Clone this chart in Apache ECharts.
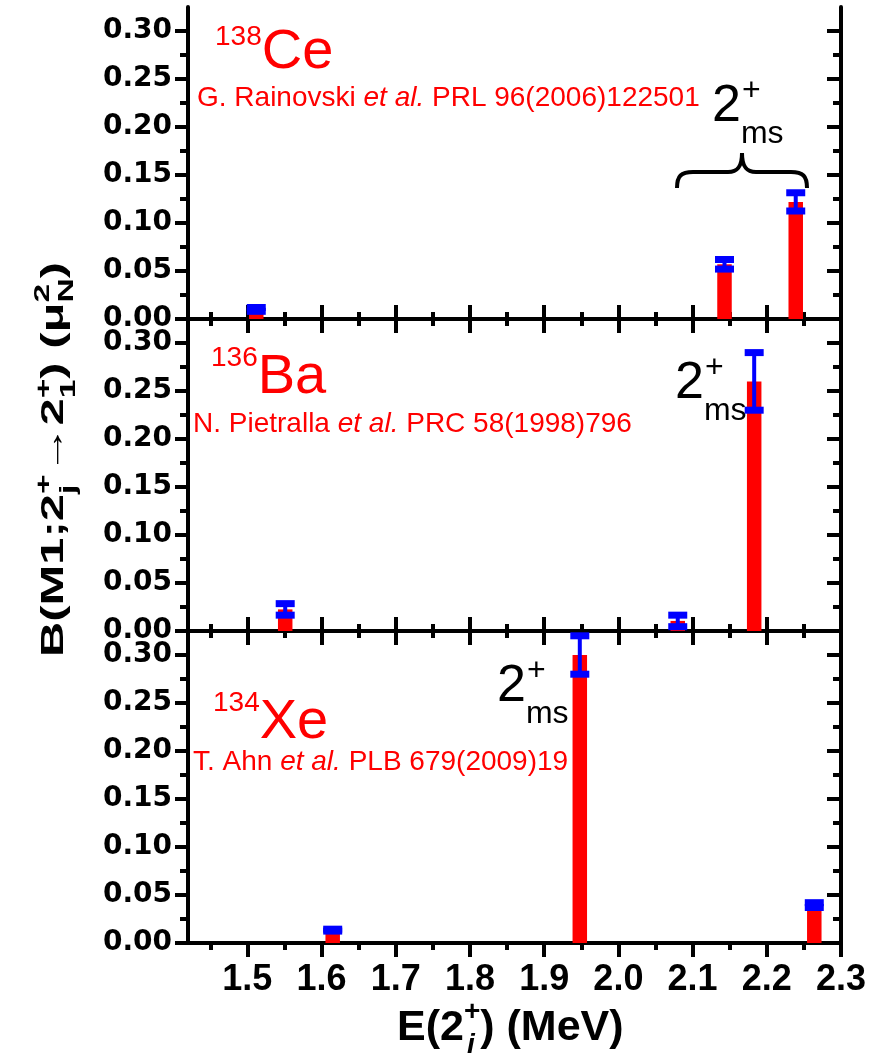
<!DOCTYPE html>
<html><head><meta charset="utf-8">
<script src="https://cdn.jsdelivr.net/npm/echarts@6/dist/echarts.min.js"></script>
<style>html,body{margin:0;padding:0;background:#fff}#c{width:879px;height:1056px}</style>
</head><body><div id="c"></div>
<script>
// ---------------- data ----------------
const ceEnergy = [1.512, 2.143, 2.239];
const ceB      = [0.010, 0.057, 0.122];
const ceErr    = [0.002, 0.005, 0.0095];

const baEnergy = [1.551, 2.080, 2.183];
const baB      = [0.0225, 0.0105, 0.260];
const baErr    = [0.006, 0.006, 0.030];

const xeEnergy = [1.615, 1.948, 2.264];
const xeB      = [0.0134, 0.300, 0.0395];
const xeErr    = [0.001, 0.020, 0.0025];

const xMajorTicks = [1.5, 1.6, 1.7, 1.8, 1.9, 2.0, 2.1, 2.2, 2.3];
const xMinorTicks = [1.45, 1.55, 1.65, 1.75, 1.85, 1.95, 2.05, 2.15, 2.25];
const yMajorTicks = [0, 0.05, 0.10, 0.15, 0.20, 0.25, 0.30];
const yMinorTicks = [0.025, 0.075, 0.125, 0.175, 0.225, 0.275];

const nucleusMass   = ['138', '136', '134'];
const nucleusSymbol = ['Ce', 'Ba', 'Xe'];
const refAuthor     = ['G. Rainovski ', 'N. Pietralla ', 'T. Ahn '];
const refJournal    = [' PRL 96(2006)122501', ' PRC 58(1998)796', ' PLB 679(2009)19'];

// ---------------- helpers ----------------
const cv = document.createElement('canvas').getContext('2d');
function tw(t, f) { cv.font = f; return cv.measureText(t).width; }
const narrowOK = tw('abcdefghijklm', '40px "Liberation Sans Narrow", monospace') !== tw('abcdefghijklm', '40px monospace');
const NARROW = narrowOK ? '"Liberation Sans Narrow"' : '"Liberation Sans"';
const SANS = '"Liberation Sans", Arial, sans-serif';

function seg(t, fs, o) {
  o = o || {};
  const fam = o.family || SANS;
  return { t, fs, dy: o.dy || 0, dx: o.dx || 0, fill: o.fill || '#000',
    font: (o.italic ? 'italic ' : '') + (o.bold ? 'bold ' : '') + fs + 'px ' + fam };
}
function formula(segs) {
  let x = 0; const ch = [];
  segs.forEach(s => {
    const grp = Array.isArray(s) ? s : [s];
    let w = 0;
    grp.forEach(g => {
      ch.push({ type: 'text', silent: true, x: x + g.dx, y: g.dy - 0.35 * g.fs,
        style: { text: g.t, font: g.font, fill: g.fill, align: 'left', verticalAlign: 'middle' } });
      w = Math.max(w, tw(g.t, g.font) + g.dx);
    });
    x += w;
  });
  return { children: ch, width: x };
}

// ---------------- layout ----------------
const GRID_LEFT = 188, GRID_RIGHT = 38, GRID_TOP = 7, PANEL_H = 312;
const grids = [0, 1, 2].map(i => ({ left: GRID_LEFT, right: GRID_RIGHT, top: GRID_TOP + i * PANEL_H, height: PANEL_H }));

const lineStyle = { color: '#000', width: 4 };
const tickStyle = { color: '#000', width: 4 };
const xAxes = [], yAxes = [];
[0, 1, 2].forEach(i => {
  const last = i === 2;
  const base = { gridIndex: i, type: 'value', min: 1.42, max: 2.3, splitLine: { show: false } };
  xAxes.push(Object.assign({}, base, { position: 'bottom', axisLine: { lineStyle },
    axisTick: { customValues: xMajorTicks, inside: !last, length: 14, lineStyle: tickStyle },
    axisLabel: { show: last, customValues: xMajorTicks, formatter: v => v.toFixed(1), margin: 19,
      fontFamily: NARROW, fontWeight: 'bold', fontSize: narrowOK ? 39 : 36, color: '#000' } }));
  xAxes.push(Object.assign({}, base, { position: 'bottom', axisLine: { show: false },
    axisTick: { customValues: xMinorTicks, inside: !last, length: 7, lineStyle: tickStyle }, axisLabel: { show: false } }));
  xAxes.push(Object.assign({}, base, { position: 'top', axisLine: { lineStyle },
    axisTick: { customValues: xMajorTicks, inside: true, length: 14, lineStyle: tickStyle }, axisLabel: { show: false } }));
  xAxes.push(Object.assign({}, base, { position: 'top', axisLine: { show: false },
    axisTick: { customValues: xMinorTicks, inside: true, length: 7, lineStyle: tickStyle }, axisLabel: { show: false } }));

  const yb = { gridIndex: i, type: 'value', min: 0, max: 0.325, splitLine: { show: false } };
  yAxes.push(Object.assign({}, yb, { position: 'left', axisLine: { lineStyle },
    axisTick: { customValues: yMajorTicks, inside: false, length: 13, lineStyle: tickStyle },
    axisLabel: { customValues: yMajorTicks, formatter: v => v.toFixed(2), margin: 16, padding: [0, 0, 9, 0],
      fontFamily: '"DejaVu Sans"', fontWeight: 'bold', fontSize: 28, color: '#000' } }));
  yAxes.push(Object.assign({}, yb, { position: 'left', axisLine: { show: false },
    axisTick: { customValues: yMinorTicks, inside: false, length: 8, lineStyle: tickStyle }, axisLabel: { show: false } }));
  yAxes.push(Object.assign({}, yb, { position: 'right', axisLine: { lineStyle },
    axisTick: { customValues: yMajorTicks, inside: true, length: 14, lineStyle: tickStyle }, axisLabel: { show: false } }));
  yAxes.push(Object.assign({}, yb, { position: 'right', axisLine: { show: false },
    axisTick: { customValues: yMinorTicks, inside: true, length: 8, lineStyle: tickStyle }, axisLabel: { show: false } }));
});

function renderBar(params, api) {
  const x = api.value(0), v = api.value(1), e = api.value(2);
  const b0 = api.coord([x, 0]), t = api.coord([x, v]);
  const hi = api.coord([x, v + e]), lo = api.coord([x, v - e]);
  const bw = 14.5, cw = 19;
  return { type: 'group', children: [
    { type: 'rect', shape: { x: b0[0] - bw / 2, y: t[1], width: bw, height: b0[1] - t[1] }, style: { fill: '#ff0000' } },
    { type: 'line', shape: { x1: hi[0], y1: hi[1], x2: lo[0], y2: lo[1] }, style: { stroke: '#0000ff', lineWidth: 4 } },
    { type: 'line', shape: { x1: hi[0] - cw / 2, y1: hi[1], x2: hi[0] + cw / 2, y2: hi[1] }, style: { stroke: '#0000ff', lineWidth: 7 } },
    { type: 'line', shape: { x1: lo[0] - cw / 2, y1: lo[1], x2: lo[0] + cw / 2, y2: lo[1] }, style: { stroke: '#0000ff', lineWidth: 7 } }
  ] };
}
const panelData = [
  ceEnergy.map((e, k) => [e, ceB[k], ceErr[k]]),
  baEnergy.map((e, k) => [e, baB[k], baErr[k]]),
  xeEnergy.map((e, k) => [e, xeB[k], xeErr[k]])
];
const series = panelData.map((d, i) => ({
  type: 'custom', xAxisIndex: i * 4, yAxisIndex: i * 4, data: d, encode: { x: 0, y: 1 },
  renderItem: renderBar, clip: false, silent: true
}));

// ---------------- annotations ----------------
const graphics = [];
const RED = '#ff0000';
const nucPos = [
  { x: 215, y: 72, dySup: -24.5 },
  { x: 211, y: 397, dySup: -29 },
  { x: 213, y: 742, dySup: -29 }
];
const refPos = [{ x: 197, y: 108 }, { x: 193, y: 434 }, { x: 193, y: 772 }];
const refFs = narrowOK ? 34 : 28;
[0, 1, 2].forEach(i => {
  const f1 = formula([seg(nucleusMass[i], 28, { dy: nucPos[i].dySup, fill: RED }), seg(nucleusSymbol[i], 56, { fill: RED })]);
  graphics.push({ type: 'group', x: nucPos[i].x, y: nucPos[i].y, children: f1.children });
  const f2 = formula([seg(refAuthor[i], refFs, { fill: RED, family: NARROW }),
    seg('et al.', refFs, { fill: RED, family: NARROW, italic: true }),
    seg(refJournal[i], refFs, { fill: RED, family: NARROW })]);
  graphics.push({ type: 'group', x: refPos[i].x, y: refPos[i].y, children: f2.children });
});
const msPos = [{ x: 712, y: 125 }, { x: 675, y: 402 }, { x: 497, y: 705 }];
msPos.forEach(p => {
  const f = formula([seg('2', 52), [seg('+', 32, { dy: -23, dx: 1 }), seg('ms', 32, { dy: 20 })]]);
  graphics.push({ type: 'group', x: p.x, y: p.y, children: f.children });
});
// curly brace over the two 138Ce mixed-symmetry states
const braceStyle = { fill: 'none', stroke: '#000', lineWidth: 4 };
const braceParts = [
  { type: 'bezierCurve', shape: { x1: 677, y1: 188, cpx1: 677, cpy1: 176, cpx2: 681, cpy2: 172, x2: 693, y2: 172 } },
  { type: 'line', shape: { x1: 693, y1: 172, x2: 728, y2: 172 } },
  { type: 'bezierCurve', shape: { x1: 728, y1: 172, cpx1: 738, cpy1: 172, cpx2: 742, cpy2: 166, x2: 742, y2: 153 } },
  { type: 'bezierCurve', shape: { x1: 742, y1: 153, cpx1: 742, cpy1: 166, cpx2: 746, cpy2: 172, x2: 756, y2: 172 } },
  { type: 'line', shape: { x1: 756, y1: 172, x2: 791, y2: 172 } },
  { type: 'bezierCurve', shape: { x1: 791, y1: 172, cpx1: 803, cpy1: 172, cpx2: 807, cpy2: 176, x2: 807, y2: 188 } }
];
braceParts.forEach(p => { p.silent = true; p.style = braceStyle; graphics.push(p); });

// axis titles
const yt = formula([
  seg('B(M1;2', 32, { bold: true }),
  [seg('+', 22, { bold: true, dy: -12 }), seg('j', 22, { bold: true, dy: 12 })],
  seg('\u21922', 32, { bold: true }),
  [seg('+', 22, { bold: true, dy: -12 }), seg('1', 22, { bold: true, dy: 12 })],
  seg(') (\u03bc', 32, { bold: true }),
  [seg('2', 22, { bold: true, dy: -14 }), seg('N', 22, { bold: true, dy: 10 })],
  seg(')', 32, { bold: true })
]);
graphics.push({ type: 'group', x: 65, y: 657, rotation: Math.PI / 2, scaleX: 395 / yt.width, children: yt.children });

const xt = formula([
  seg('E(2', 43, { bold: true }),
  [seg('+', 28, { bold: true, dy: -21 }), seg('i', 28, { bold: true, italic: true, dy: 12, dx: 3 })],
  seg(') (MeV)', 43, { bold: true })
]);
graphics.push({ type: 'group', x: 397, y: 1043, children: xt.children });

const chart = echarts.init(document.getElementById('c'), null, { renderer: 'canvas' });
chart.setOption({
  animation: false,
  backgroundColor: '#fff',
  grid: grids,
  xAxis: xAxes,
  yAxis: yAxes,
  series: series,
  graphic: graphics
});
</script>
</body></html>
